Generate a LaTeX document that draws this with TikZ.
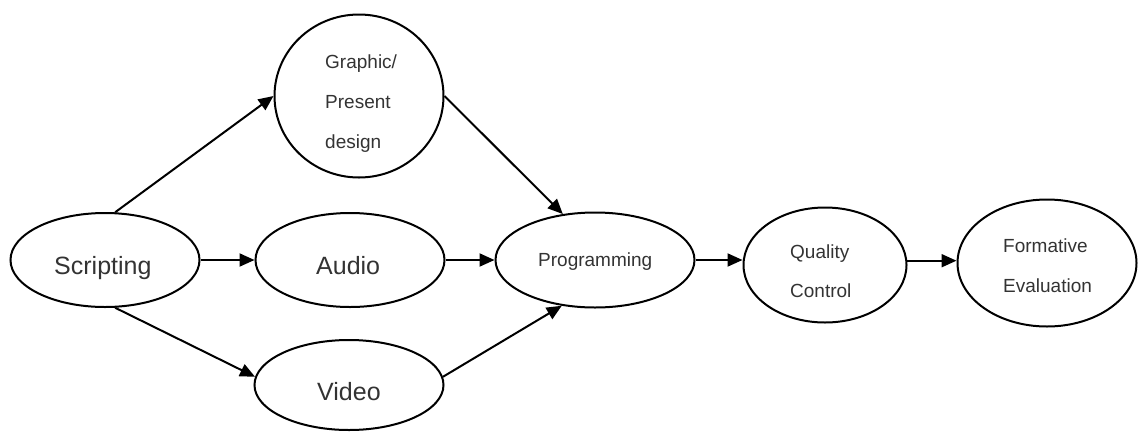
\documentclass[tikz,border=0pt]{standalone}
\usepackage{fontspec}
\setmainfont{Liberation Sans}
\usetikzlibrary{shapes.geometric,arrows.meta}
\definecolor{txt}{HTML}{333333}
\tikzset{
  oval/.style={draw=black, line width=2pt, ellipse, inner sep=0pt},
  big/.style={text=txt, font=\fontsize{25}{30}\selectfont, inner sep=0pt, anchor=base west},
  small/.style={text=txt, font=\fontsize{19}{23}\selectfont, inner sep=0pt, anchor=base west},
  arr/.style={line width=2pt, -{Triangle[length=15pt,width=13pt]}}
}
\begin{document}
\begin{tikzpicture}[x=1pt,y=-1pt]
\useasboundingbox (0,0) rectangle (1138,432);
% ellipses
\node[oval, minimum width=189pt, minimum height=94pt] (scr) at (105,260) {};
\node[oval, minimum width=169pt, minimum height=163pt] (gra) at (359,96) {};
\node[oval, minimum width=189pt, minimum height=94pt] (aud) at (350,260) {};
\node[oval, minimum width=189pt, minimum height=90pt] (vid) at (349,385) {};
\node[oval, minimum width=199pt, minimum height=95pt] (prg) at (595,260) {};
\node[oval, minimum width=163pt, minimum height=115pt] (qc) at (825,265) {};
\node[oval, minimum width=179pt, minimum height=127pt] (fe) at (1047,263) {};
% texts
\node[big] (scrT) at (54,274) {Scripting};
\node[big] (audT) at (316,274) {Audio};
\node[big] (vidT) at (317,400) {Video};
\node[small] (gr1) at (325,68) {Graphic/};
\node[small] (gr2) at (325,108) {Present};
\node[small] (gr3) at (325,148) {design};
\node[small] (prgT) at (538,266) {Programming};
\node[small] (qc1) at (790,258) {Quality};
\node[small] (qc2) at (790,297) {Control};
\node[small] (fe1) at (1003,252) {Formative};
\node[small] (fe2) at (1003,292) {Evaluation};
% connectors
\draw[arr] (scr.78) -- (gra.180);
\draw[arr] (scr.282) -- (vid.175);
\draw[arr] (scr.east) -- (aud.west);
\draw[arr] (gra.east) -- (prg.125);
\draw[arr] (aud.east) -- (prg.west);
\draw[arr] (vid.5) -- (prg.234);
\draw[arr] (prg.east) -- (prg.east -| qc.west);
\draw[arr] (qc.3) -- (qc.3 -| fe.west);
\end{tikzpicture}
\end{document}
